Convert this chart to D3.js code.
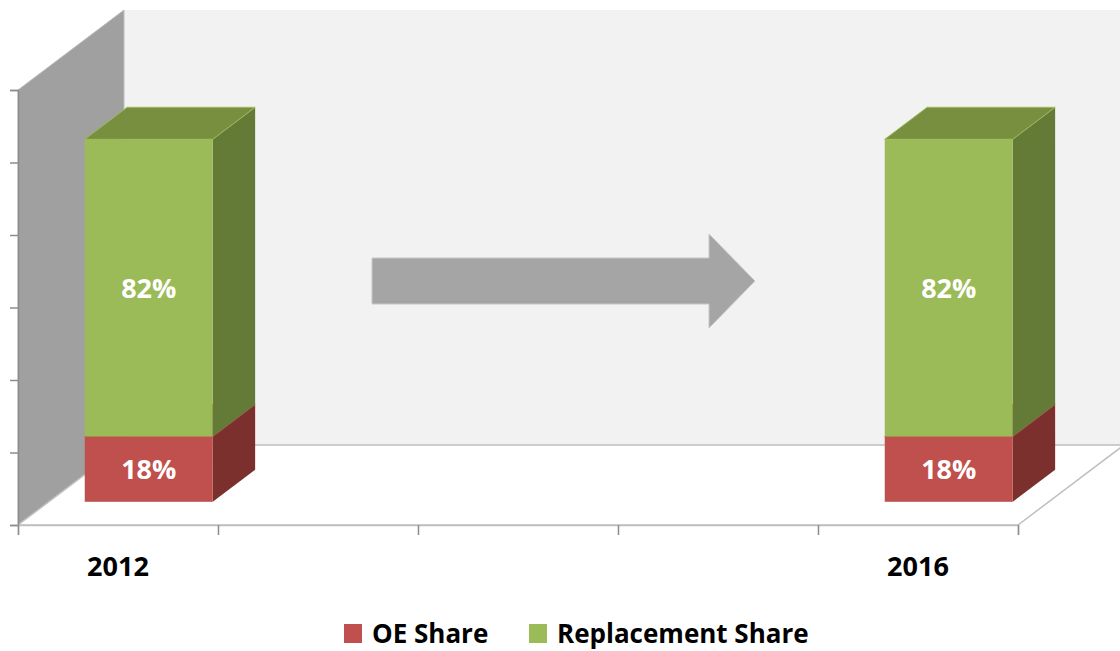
<!DOCTYPE html>
<html>
<head>
<meta charset="utf-8">
<script src="https://cdn.jsdelivr.net/npm/d3@7"></script>
<style>
  html, body { margin: 0; padding: 0; background: #fff; }
  svg { display: block; font-family: 'Open Sans', sans-serif; }
</style>
</head>
<body>
<svg id="chart" width="1120" height="651"></svg>
<script>
// chart data
const slots = [0, 1, 2, 3, 4];
const tickLabels = ['2012', '', '', '', '2016'];
const oeShare = [0.18, null, null, null, 0.18];
const replacementShare = [0.82, null, null, null, 0.82];
const seriesNames = ['OE Share', 'Replacement Share'];
const yTicks = [0, 0.2, 0.4, 0.6, 0.8, 1.0, 1.2];

const colors = {
  oe: { front: '#c0504d', side: '#7b302e', top: '#9a3d3b' },
  rep: { front: '#9bbb59', side: '#647a37', top: '#778f3f' }
};

const svg = d3.select('#chart');

// front plane of the 3D box
const x = d3.scaleBand().domain(slots).range([18, 1018]).paddingInner(0).paddingOuter(0);
const xTick = d3.scaleLinear().domain([0, 5]).range([18, 1018]);
const y = d3.scaleLinear().domain([0, 1.2]).range([525, 90]);
const depth = { dx: 106, dy: -80 };
const barDepth = [0.29, 0.69];
const barWidth = x.bandwidth() * 0.64;

function P(xv, v, d) {
  return [xv + d * depth.dx, y(v) + d * depth.dy];
}
function poly(pts) {
  return 'M' + pts.map(p => p.join(',')).join('L') + 'Z';
}

const x0 = x.range()[0];
const x1 = x.range()[1];
const yMax = y.domain()[1];

// back wall
svg.append('path')
  .attr('d', poly([P(x0, 0, 1), P(x0, yMax, 1), P(x1 + 40, yMax, 1), P(x1 + 40, 0, 1)]))
  .attr('fill', '#f2f2f2');

// left wall
svg.append('path')
  .attr('d', poly([P(x0, 0, 0), P(x0, yMax, 0), P(x0, yMax, 1), P(x0, 0, 1)]))
  .attr('fill', '#a0a0a0')
  .attr('stroke', '#bdbdbd')
  .attr('stroke-width', 1);

// floor
svg.append('path')
  .attr('d', poly([P(x0, 0, 0), P(x1, 0, 0), P(x1, 0, 1), P(x0, 0, 1)]))
  .attr('fill', '#ffffff')
  .attr('stroke', '#bfbfbf')
  .attr('stroke-width', 1.5);

// axes
const axisY = d3.axisLeft(y).tickValues(yTicks).tickSize(8).tickFormat('');
svg.append('g')
  .attr('class', 'axis axis-y')
  .attr('transform', `translate(${x0},0)`)
  .call(axisY);

const axisX = d3.axisBottom(xTick).tickValues(d3.range(6)).tickSize(10).tickFormat('');
svg.append('g')
  .attr('class', 'axis axis-x')
  .attr('transform', `translate(0,${y(0)})`)
  .call(axisX);

svg.selectAll('.axis path, .axis line').attr('stroke', '#8c8c8c').attr('stroke-width', 1.5);
svg.select('.axis-x .domain').attr('stroke', '#bfbfbf');

// stacked 3D bars
const stacks = [];
slots.forEach(i => {
  if (oeShare[i] == null) return;
  const cx = x(i) + x.bandwidth() / 2;
  stacks.push({ i, cx, v0: 0, v1: oeShare[i], c: colors.oe });
  stacks.push({ i, cx, v0: oeShare[i], v1: oeShare[i] + replacementShare[i], c: colors.rep });
});

const bars = svg.append('g').attr('class', 'bars');
const [d0, d1] = barDepth;

stacks.forEach(s => {
  const l = s.cx - barWidth / 2;
  const r = s.cx + barWidth / 2;
  const g = bars.append('g');
  g.append('path')
    .attr('d', poly([P(r, s.v0, d0), P(r, s.v0, d1), P(r, s.v1, d1), P(r, s.v1, d0)]))
    .attr('fill', s.c.side);
  g.append('path')
    .attr('d', poly([P(l, s.v1, d0), P(l, s.v1, d1), P(r, s.v1, d1), P(r, s.v1, d0)]))
    .attr('fill', s.c.top)
    .attr('stroke', s.c.front)
    .attr('stroke-width', 1);
  const fl = P(l, s.v1, d0);
  const br = P(r, s.v0, d0);
  g.append('rect')
    .attr('x', fl[0])
    .attr('y', fl[1])
    .attr('width', br[0] - fl[0])
    .attr('height', br[1] - fl[1])
    .attr('fill', s.c.front);
  g.append('text')
    .attr('x', (fl[0] + br[0]) / 2)
    .attr('y', (fl[1] + br[1]) / 2)
    .attr('dy', '0.36em')
    .attr('text-anchor', 'middle')
    .attr('fill', '#fff')
    .attr('font-size', 27)
    .attr('font-weight', 700)
    .text(Math.round((s.v1 - s.v0) * 100) + '%');
});

// category labels
svg.append('g')
  .selectAll('text')
  .data(slots)
  .join('text')
  .attr('x', d => x(d) + x.bandwidth() / 2)
  .attr('y', 576)
  .attr('text-anchor', 'middle')
  .attr('font-size', 27)
  .attr('font-weight', 700)
  .attr('fill', '#000')
  .text(d => tickLabels[d]);

// arrow between the two years
const ax0 = x(1) + 154;
const ax1 = x(3) + 137;
const ay = 281;
svg.append('path')
  .attr('d', `M${ax0},${ay - 23}L${ax1 - 46},${ay - 23}L${ax1 - 46},${ay - 47}L${ax1},${ay}` +
    `L${ax1 - 46},${ay + 47}L${ax1 - 46},${ay + 23}L${ax0},${ay + 23}Z`)
  .attr('fill', '#a5a5a5')
  .attr('stroke', '#c8c8c8')
  .attr('stroke-width', 1);

// legend
const legendItems = [
  { name: seriesNames[0], color: colors.oe.front, x: 344 },
  { name: seriesNames[1], color: colors.rep.front, x: 529 }
];
const legend = svg.append('g').attr('class', 'legend');
const li = legend.selectAll('g').data(legendItems).join('g')
  .attr('transform', d => `translate(${d.x},624)`);
li.append('rect').attr('width', 18).attr('height', 19).attr('fill', d => d.color);
li.append('text')
  .attr('x', 28)
  .attr('y', 19)
  .attr('font-size', 26)
  .attr('font-weight', 700)
  .attr('fill', '#000')
  .text(d => d.name);
</script>
</body>
</html>
